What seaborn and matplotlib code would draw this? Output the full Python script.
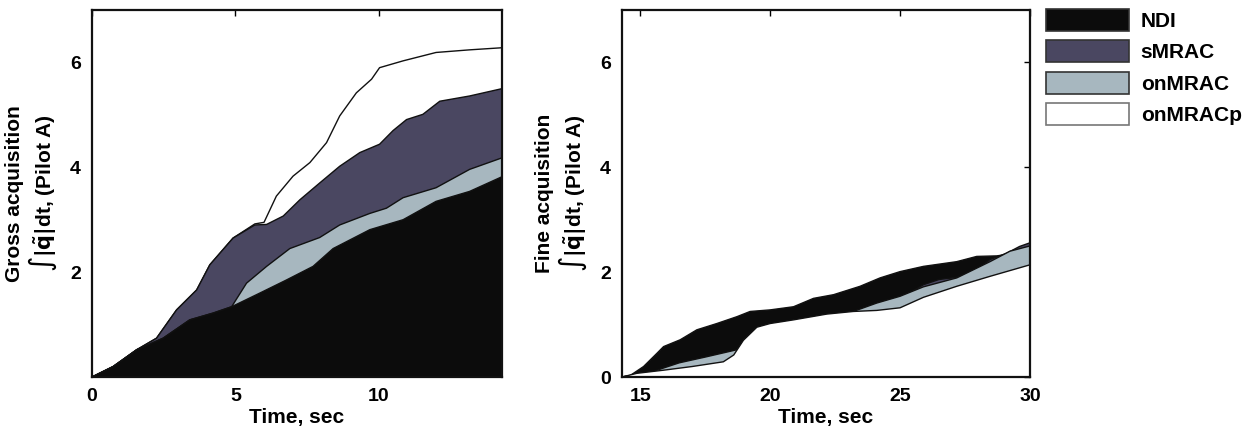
import matplotlib
matplotlib.use("Agg")
import matplotlib.pyplot as plt
from matplotlib.patches import Patch
import seaborn as sns

# series names and colours
series = ["NDI", "sMRAC", "onMRAC", "onMRACp"]
colors = {"NDI": "#0c0c0c", "sMRAC": "#4a4761", "onMRAC": "#a7b7bf", "onMRACp": "#ffffff"}

# gross acquisition (left panel)
gross_ndi_t = [0, 0.74, 1.56, 2.48, 3.41, 4.23, 4.87, 5.85, 6.78, 7.71, 8.41, 9.69, 10.85, 12.0, 13.17, 14.3]
gross_ndi_y = [0, 0.2, 0.52, 0.74, 1.09, 1.22, 1.34, 1.6, 1.85, 2.11, 2.45, 2.81, 3.0, 3.35, 3.54, 3.82]

gross_onmrac_t = [0, 0.74, 1.56, 2.48, 3.41, 4.23, 4.87, 5.39, 6.09, 6.9, 7.94, 8.64, 9.69, 10.27, 10.85, 12.0, 13.17, 14.3]
gross_onmrac_y = [0, 0.2, 0.52, 0.74, 1.09, 1.22, 1.34, 1.79, 2.11, 2.45, 2.66, 2.9, 3.12, 3.22, 3.42, 3.61, 3.96, 4.18]

gross_smrac_t = [0, 0.74, 1.56, 2.25, 2.95, 3.65, 4.11, 4.92, 5.68, 6.09, 6.67, 7.25, 7.94, 8.64, 9.34, 10.03, 10.5, 10.97, 11.54, 12.13, 13.17, 14.3]
gross_smrac_y = [0, 0.2, 0.52, 0.74, 1.28, 1.66, 2.14, 2.65, 2.9, 2.91, 3.07, 3.38, 3.7, 4.02, 4.28, 4.44, 4.7, 4.91, 5.01, 5.26, 5.36, 5.5]

gross_onmracp_t = [0, 0.74, 1.56, 2.25, 2.95, 3.65, 4.11, 4.92, 5.68, 6.0, 6.43, 7.01, 7.6, 8.18, 8.64, 9.22, 9.75, 10.03, 10.85, 12.0, 13.17, 14.3]
gross_onmracp_y = [0, 0.2, 0.52, 0.74, 1.28, 1.66, 2.14, 2.65, 2.92, 2.95, 3.45, 3.83, 4.09, 4.47, 4.98, 5.42, 5.68, 5.9, 6.03, 6.19, 6.24, 6.28]

# fine acquisition (right panel)
fine_ndi_t = [14.3, 14.62, 15.13, 15.64, 15.9, 16.54, 17.18, 17.95, 18.72, 19.23, 20.0, 20.9, 21.67, 22.44, 23.46, 24.23, 25.0, 25.9, 27.18, 27.95, 28.72, 30.0]
fine_ndi_y = [0, 0.03, 0.2, 0.45, 0.58, 0.71, 0.9, 1.02, 1.15, 1.25, 1.28, 1.34, 1.5, 1.57, 1.73, 1.89, 2.01, 2.11, 2.2, 2.3, 2.31, 2.4]

fine_smrac_t = [14.3, 15.9, 18.0, 19.0, 20.0, 22.0, 23.2, 24.1, 25.0, 25.9, 26.5, 27.18, 28.0, 28.46, 29.1, 29.6, 30.0]
fine_smrac_y = [0, 0.1, 0.25, 0.6, 0.95, 1.15, 1.2, 1.35, 1.5, 1.76, 1.86, 1.9, 2.05, 2.24, 2.36, 2.49, 2.56]

fine_onmrac_t = [14.3, 14.87, 15.5, 15.83, 16.5, 17.5, 18.2, 18.72, 18.97, 19.49, 20.0, 20.9, 22.18, 23.2, 24.1, 25.0, 25.9, 27.18, 28.46, 29.23, 30.0]
fine_onmrac_y = [0, 0.05, 0.1, 0.16, 0.27, 0.38, 0.46, 0.52, 0.68, 0.93, 1.0, 1.07, 1.18, 1.25, 1.41, 1.54, 1.72, 1.89, 2.2, 2.4, 2.5]

fine_onmracp_t = [14.3, 14.87, 15.9, 17.0, 18.2, 18.6, 18.97, 19.49, 20.0, 20.9, 22.18, 23.2, 24.1, 25.0, 25.9, 27.18, 28.46, 30.0]
fine_onmracp_y = [0, 0.07, 0.13, 0.2, 0.29, 0.42, 0.7, 0.95, 1.02, 1.09, 1.2, 1.25, 1.27, 1.32, 1.52, 1.73, 1.92, 2.14]

sns.set_theme(style="white")
plt.rcParams["font.family"] = ["Liberation Sans", "DejaVu Sans"]
plt.rcParams["font.weight"] = "bold"
plt.rcParams["mathtext.fontset"] = "dejavusans"
plt.rcParams["text.color"] = "black"
plt.rcParams["axes.labelcolor"] = "black"

fig = plt.figure(figsize=(12.53, 4.34), dpi=100)
ax1 = fig.add_axes([92 / 1253, 57 / 434, 410 / 1253, 367 / 434])
ax2 = fig.add_axes([622 / 1253, 57 / 434, 408 / 1253, 367 / 434])


def draw(ax, data, order):
    # each curve is filled from zero, later ones cover earlier ones
    for z, name in enumerate(order):
        t, y = data[name]
        ax.fill_between(t, 0, y, facecolor=colors[name], edgecolor="none", zorder=2 + z)
        sns.lineplot(x=t, y=y, ax=ax, color="#111111", linewidth=1.0, zorder=2 + z,
                     estimator=None, sort=False)


gross = {"NDI": (gross_ndi_t, gross_ndi_y), "sMRAC": (gross_smrac_t, gross_smrac_y),
         "onMRAC": (gross_onmrac_t, gross_onmrac_y), "onMRACp": (gross_onmracp_t, gross_onmracp_y)}
fine = {"NDI": (fine_ndi_t, fine_ndi_y), "sMRAC": (fine_smrac_t, fine_smrac_y),
        "onMRAC": (fine_onmrac_t, fine_onmrac_y), "onMRACp": (fine_onmracp_t, fine_onmracp_y)}

draw(ax1, gross, ["onMRACp", "sMRAC", "onMRAC", "NDI"])
draw(ax2, fine, ["NDI", "sMRAC", "onMRAC", "onMRACp"])

ax1.set_xlim(0, 14.3)
ax1.set_xticks([0, 5, 10])
ax1.set_yticks([2, 4, 6])
ax2.set_xlim(14.3, 30)
ax2.set_xticks([15, 20, 25, 30])
ax2.set_yticks([0, 2, 4, 6])

ylab2 = r"$\int|\tilde{\mathbf{q}}|$dt, (Pilot A)"
ax1.set_ylabel("Gross acquisition\n" + ylab2, fontsize=15, fontweight="bold", labelpad=8, linespacing=1.1)
ax2.set_ylabel("Fine acquisition\n" + ylab2, fontsize=15, fontweight="bold", labelpad=8, linespacing=1.1)

for ax in (ax1, ax2):
    ax.set_ylim(0, 7)
    ax.set_xlabel("Time, sec", fontsize=15, fontweight="bold", labelpad=2)
    ax.tick_params(direction="in", length=4, width=1, top=True, right=True,
                   labelsize=14, pad=8, colors="black")
    for lab in ax.get_xticklabels() + ax.get_yticklabels():
        lab.set_fontweight("bold")
    for sp in ax.spines.values():
        sp.set_visible(True)
        sp.set_linewidth(1.6)
        sp.set_color("#111111")
        sp.set_zorder(10)
    ax.set_facecolor("white")

handles = [Patch(facecolor=colors[n], edgecolor="#333333" if n != "onMRACp" else "#777777",
                 linewidth=1.2, label=n) for n in series]
fig.legend(handles=handles, loc="upper left", bbox_to_anchor=(1046 / 1253, 1 - 9 / 434),
           frameon=False, borderpad=0, borderaxespad=0, handlelength=4.0, handleheight=1.25,
           labelspacing=0.45, handletextpad=0.55, prop={"size": 15, "weight": "bold"})

fig.savefig("out.png", dpi=100, facecolor="white")
